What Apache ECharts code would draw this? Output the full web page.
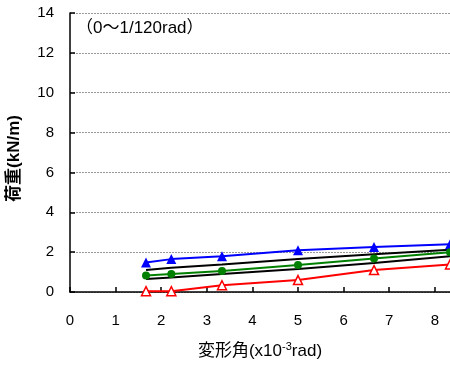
<!DOCTYPE html>
<html><head><meta charset="utf-8">
<script src="https://cdn.jsdelivr.net/npm/echarts@6/dist/echarts.min.js"></script>
<style>html,body{margin:0;padding:0;background:#fff}#c{width:450px;height:365px}</style>
</head><body><div id="c"></div>
<script>
const xs = [1.667, 2.222, 3.333, 5.0, 6.667, 8.333];
const blueVals = [1.48, 1.65, 1.8, 2.1, 2.26, 2.4];
const blackUpper = [1.1, 1.22, 1.38, 1.65, 1.9, 2.12];
const greenVals = [0.83, 0.9, 1.05, 1.35, 1.68, 2.0];
const blackLower = [0.65, 0.73, 0.9, 1.15, 1.45, 1.8];
const redVals = [0.04, 0.04, 0.34, 0.6, 1.1, 1.38];
const xTicks = [0,1,2,3,4,5,6,7,8];
const yTicks = [0,2,4,6,8,10,12,14];
const annotation = '（0～1/120rad）';
const yName = '荷重(kN/m)';

const pair = v => xs.map((x,i)=>[x,v[i]]);
const font = "'Liberation Sans', Arial, 'Noto Sans CJK JP', sans-serif";
const chart = echarts.init(document.getElementById('c'));
chart.setOption({
  animation:false,
  grid:{left:70,right:0,top:13,bottom:73,containLabel:false,outerBoundsMode:'none'},
  xAxis:{type:'value',min:0,max:8.333,interval:1,
    axisLine:{onZero:false,lineStyle:{color:'#000',width:1.5}},
    axisTick:{inside:true,length:5,lineStyle:{color:'#000',width:1.5}},
    axisLabel:{color:'#000',fontSize:15,fontFamily:font,margin:21,
      formatter:v=> xTicks.includes(v)? String(v):'' , showMaxLabel:false},
    splitLine:{show:false},
    name:'{a|変形角(x10}{s|-3}{a|rad)}',nameLocation:'middle',nameGap:49,
    nameTextStyle:{rich:{a:{fontSize:17,color:'#000',fontFamily:font},
      s:{fontSize:11,color:'#000',verticalAlign:'top',padding:[0,0,10,0],fontFamily:font}}}
  },
  yAxis:{type:'value',min:0,max:14,interval:2,
    axisLine:{show:true,lineStyle:{color:'#000',width:1.5}},
    axisTick:{show:true,inside:true,length:5,lineStyle:{color:'#000',width:1.5}},
    axisLabel:{color:'#000',fontSize:15,fontFamily:font,margin:16,
      formatter:v=> yTicks.includes(v)? String(v):''},
    splitLine:{show:true,lineStyle:{color:'#999',type:[2,1],width:1}},
    name:yName,nameLocation:'middle',nameGap:47,nameRotate:90,
    nameTextStyle:{fontSize:17,color:'#000',fontWeight:'bold',fontFamily:font,padding:[0,12,0,0]}
  },
  graphic:[{type:'text',left:76,top:20,style:{text:annotation,fontSize:17,fill:'#000',fontFamily:font}}],
  series:[
    {type:'line',data:pair(blackUpper),symbol:'none',lineStyle:{color:'#000',width:2},z:2},
    {type:'line',data:pair(blackLower),symbol:'none',lineStyle:{color:'#000',width:2},z:2},
    {type:'line',data:pair(blueVals),symbol:'triangle',symbolSize:10,itemStyle:{color:'#0000ff'},lineStyle:{color:'#0000ff',width:2},z:3},
    {type:'line',data:pair(greenVals),symbol:'circle',symbolSize:8,itemStyle:{color:'#008000'},lineStyle:{color:'#008000',width:2},z:3},
    {type:'line',data:pair(redVals),symbol:'triangle',symbolSize:9,itemStyle:{color:'#fff',borderColor:'#ff0000',borderWidth:1.5},lineStyle:{color:'#ff0000',width:2},z:3}
  ]
});
</script></body></html>
